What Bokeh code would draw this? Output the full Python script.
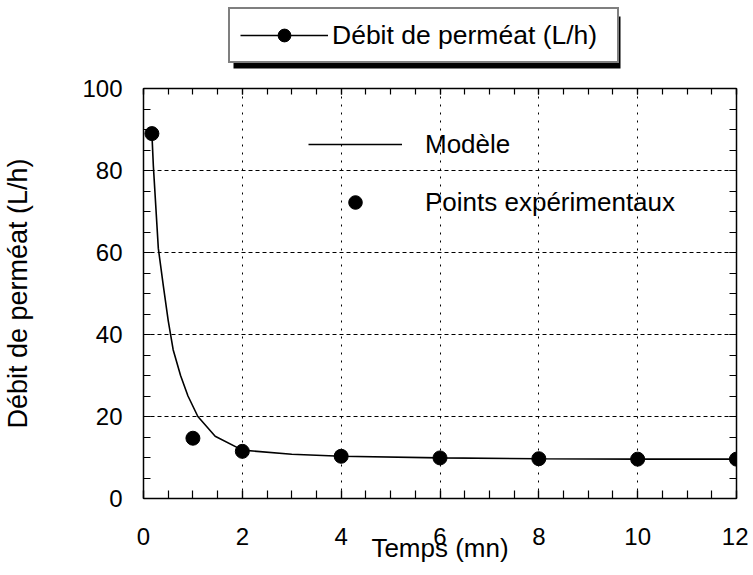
from bokeh.plotting import figure
from bokeh.layouts import column
from bokeh.models import (Range1d, LinearAxis, SingleIntervalTicker, Legend, LegendItem, BoxAnnotation)
from bokeh.embed import file_html
from bokeh.resources import INLINE

# Data
temps_pts = [0.17, 1, 2, 4, 6, 8, 10, 12]
debit_pts = [89.0, 14.7, 11.5, 10.3, 9.9, 9.7, 9.6, 9.6]

temps_mod = [0.17, 0.2, 0.3, 0.4, 0.5, 0.6, 0.75, 0.9, 1.1, 1.45, 2, 3, 4, 6, 8, 10, 12]
debit_mod = [89.0, 81.0, 61.0, 52.0, 43.4, 36.3, 30.0, 25.0, 20.0, 15.2, 11.8, 10.8, 10.3, 9.9, 9.7, 9.6, 9.6]

x_label = "Temps (mn)"
y_label = "Débit de perméat (L/h)"
title_label = "Débit de perméat (L/h)"
legend_model = "Modèle"
legend_points = "Points expérimentaux"

FONT = "Liberation Sans"
W = 748

# ---------------- main chart ----------------
p = figure(width=W, height=500, output_backend="svg", toolbar_location=None,
           x_range=Range1d(0, 12), y_range=Range1d(0, 100),
           min_border_left=143, min_border_right=12, min_border_top=18, min_border_bottom=72)
p.outline_line_color = None
p.background_fill_color = "white"
p.border_fill_color = "white"

def style_axis(ax, tick_len, show_labels):
    ax.axis_line_color = "black"
    ax.axis_line_width = 1.5
    ax.major_tick_in = tick_len
    ax.major_tick_out = 0
    ax.minor_tick_in = tick_len
    ax.minor_tick_out = 0
    ax.major_tick_line_color = "black"
    ax.minor_tick_line_color = "black"
    ax.major_tick_line_width = 1.2
    ax.minor_tick_line_width = 1.2
    ax.major_label_text_font = FONT
    if show_labels:
        ax.major_label_text_font_size = "24px"
        ax.major_label_text_color = "black"
    else:
        ax.major_label_text_font_size = "1px"
        ax.major_label_text_color = None
        ax.major_label_standoff = 0
        ax.axis_label = None

p.xaxis.ticker = SingleIntervalTicker(interval=2, num_minor_ticks=4)
p.yaxis.ticker = SingleIntervalTicker(interval=20, num_minor_ticks=4)
style_axis(p.xaxis[0], 8, True)
style_axis(p.yaxis[0], 7, True)
p.xaxis.major_label_standoff = 29
p.yaxis.major_label_standoff = 21

p.xaxis.axis_label = x_label
p.yaxis.axis_label = y_label
for ax in (p.xaxis[0], p.yaxis[0]):
    ax.axis_label_text_font = FONT
    ax.axis_label_text_font_style = "normal"
    ax.axis_label_text_color = "black"
p.xaxis.axis_label_text_font_size = "26px"
p.yaxis.axis_label_text_font_size = "27px"
p.xaxis.axis_label_standoff = -15
p.yaxis.axis_label_standoff = 46

top_ax = LinearAxis(ticker=SingleIntervalTicker(interval=2, num_minor_ticks=4))
right_ax = LinearAxis(ticker=SingleIntervalTicker(interval=20, num_minor_ticks=4))
style_axis(top_ax, 6, False)
style_axis(right_ax, 7, False)
p.add_layout(top_ax, "above")
p.add_layout(right_ax, "right")

p.xgrid.grid_line_color = "black"
p.xgrid.grid_line_dash = "2 6"
p.xgrid.grid_line_width = 1
p.ygrid.grid_line_color = "black"
p.ygrid.grid_line_dash = "4 3"
p.ygrid.grid_line_width = 1

line_r = p.line(temps_mod, debit_mod, line_color="black", line_width=1.6)
pts_r = p.scatter(temps_pts, debit_pts, size=14, fill_color="black", line_color="black")

inner = Legend(items=[LegendItem(label=legend_model, renderers=[line_r]),
                      LegendItem(label=legend_points, renderers=[pts_r])],
               location=(165, 279), orientation="vertical",
               glyph_width=94, glyph_height=34, label_height=34, label_standoff=23,
               spacing=24, padding=0, margin=0,
               background_fill_alpha=0, border_line_color=None,
               label_text_font=FONT, label_text_font_size="26px", label_text_color="black")
p.add_layout(inner, "center")

# ---------------- top legend box (with drop shadow) ----------------
TOP_H = 70
t = figure(width=W, height=TOP_H, output_backend="svg", toolbar_location=None,
           x_range=Range1d(0, 12), y_range=Range1d(1000, 1100),
           min_border=0, min_border_left=0, min_border_right=0, min_border_top=0, min_border_bottom=0)
t.axis.visible = False
t.grid.visible = False
t.outline_line_color = None
t.background_fill_color = "white"
t.border_fill_color = "white"
# same series drawn out of view: only their legend glyphs show here
tl = t.line(temps_mod, debit_mod, line_color="black", line_width=1.6)
tp = t.scatter(temps_pts, debit_pts, size=14, fill_color="black", line_color="black")

LX, LY, LW, LH, SH = 85, 7, 387, 52, 5
shadow = BoxAnnotation(left=LX + SH, right=LX + LW + SH, bottom=LY - SH, top=LY + LH - SH,
                       left_units="screen", right_units="screen",
                       bottom_units="screen", top_units="screen",
                       fill_color="black", fill_alpha=1, line_color=None)
t.add_layout(shadow)

top_lg = Legend(items=[LegendItem(label=title_label, renderers=[tl, tp])],
                location=(LX, LY), glyph_width=88, glyph_height=32, label_height=30,
                label_width=275, label_standoff=4, padding=10, margin=0,
                label_text_font=FONT, label_text_font_size="26.5px", label_text_color="black",
                border_line_width=2, border_line_color="black",
                background_fill_color="white", background_fill_alpha=1)
t.add_layout(top_lg, "center")

layout = column(t, p, spacing=0)
open("out.html", "w").write(file_html(layout, INLINE))
